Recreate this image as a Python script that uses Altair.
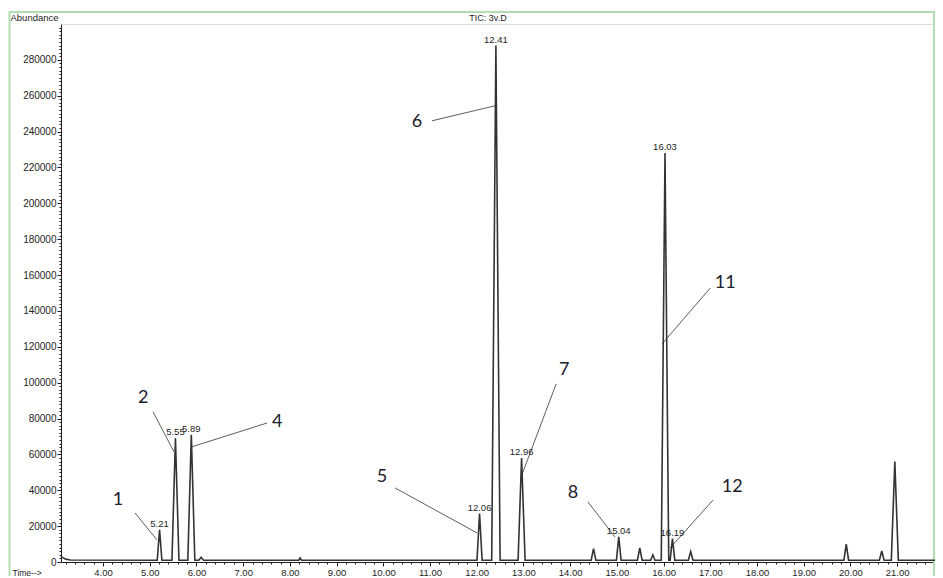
import altair as alt
import pandas as pd

# ---------------- data ----------------
peak_rt = [5.21, 5.55, 5.89, 6.10, 8.22, 12.06, 12.41, 12.96, 14.50, 15.04,
           15.49, 15.77, 16.03, 16.19, 16.58, 19.91, 20.67, 20.95]
peak_height = [18000, 69000, 71000, 2600, 2200, 27000, 288000, 58000, 7500, 14000,
               7800, 4000, 228000, 13000, 5800, 10000, 6200, 56000]
peak_halfwidth = [0.05, 0.075, 0.075, 0.05, 0.03, 0.055, 0.09, 0.075, 0.05, 0.05,
                  0.05, 0.045, 0.08, 0.05, 0.05, 0.05, 0.05, 0.075]

baseline_t = [3.10, 3.14, 3.20, 3.30, 21.81]
baseline_a = [3200, 2400, 1600, 1100, 1000]
base_level = 1000

rt_labels = ["5.21", "5.55", "5.89", "12.06", "12.41", "12.96", "15.04", "16.03", "16.19"]

num_labels = ["1", "2", "4", "5", "6", "7", "8", "11", "12"]
num_t = [4.32, 4.86, 7.73, 9.97, 10.72, 13.87, 14.06, 17.32, 17.47]
num_a = [34600, 91500, 78100, 47400, 245400, 107100, 38500, 155600, 41800]
lead_t1 = [4.685, 5.07, 7.51, 10.25, 11.04, 13.70, 14.38, 17.00, 17.06]
lead_a1 = [27300, 83700, 77500, 41300, 246000, 99300, 33500, 152800, 34600]
lead_t2 = [5.156, 5.52, 5.884, 12.007, 12.392, 12.949, 14.961, 15.967, 16.139]
lead_a2 = [12300, 61400, 64100, 16200, 254400, 47400, 13900, 121600, 7800]

chart_title = "TIC: 3v.D"
y_title = "Abundance"
x_title = "Time-->"

y_all = list(range(0, 298001, 2000))
x_all = [round(3.2 + 0.2 * i, 1) for i in range(94)]

# ---------------- build tables ----------------
rows = [{"t": t, "a": a} for t, a in zip(baseline_t, baseline_a)]
for rt, h, w in zip(peak_rt, peak_height, peak_halfwidth):
    rows.append({"t": rt - w, "a": base_level})
    rows.append({"t": rt, "a": h})
    rows.append({"t": rt + w, "a": base_level})
trace_df = pd.DataFrame(rows).sort_values("t")

lab_rows = []
for lab in rt_labels:
    i = peak_rt.index(float(lab))
    lab_rows.append({"t": peak_rt[i], "a": peak_height[i], "lab": lab})
lab_df = pd.DataFrame(lab_rows)

num_df = pd.DataFrame({"t": num_t, "a": num_a, "lab": num_labels})
lead_df = pd.DataFrame({"t1": lead_t1, "a1": lead_a1, "t2": lead_t2, "a2": lead_a2})

FONT = "Liberation Sans"
INK = "#1e1e1e"
W, H = 874, 538

is_int_x = "abs(datum.value - round(datum.value)) < 0.001"
xscale = alt.Scale(domain=[3.1, 21.81], nice=False, zero=False)
yscale = alt.Scale(domain=[0, 300000], nice=False)

xaxis = alt.Axis(
    values=x_all, tickCount=len(x_all),
    labelExpr=f"{is_int_x} ? format(datum.value, '.2f') : ''",
    tickSize={"condition": {"test": is_int_x, "value": 4}, "value": 2},
    labelFontSize=9.5, labelFont=FONT, labelColor=INK, tickColor=INK, domainColor=INK,
    grid=False, labelOverlap=False, labelFlush=False, labelPadding=1,
    title=x_title, titleX=-49, titleY=10, titleAlign="left", titleBaseline="middle",
    titleFontSize=8.5, titleFont=FONT, titleFontWeight="normal", titleColor=INK,
)
yaxis = alt.Axis(
    values=y_all, tickCount=len(y_all),
    labelExpr="datum.value % 20000 === 0 ? datum.value : ''",
    tickSize={"condition": {"test": "datum.value % 20000 === 0", "value": 4}, "value": 2},
    labelFontSize=10, labelFont=FONT, labelColor=INK, tickColor=INK, domainColor=INK,
    grid=False, labelOverlap=False, labelPadding=1,
    title=y_title, titleAngle=0, titleX=-51, titleY=-7, titleAlign="left",
    titleBaseline="middle", titleFontSize=9.5, titleFont=FONT, titleFontWeight="normal",
    titleColor=INK,
)

trace = alt.Chart(trace_df).mark_line(color="#333333", strokeWidth=1.6).encode(
    x=alt.X("t:Q", scale=xscale, axis=xaxis),
    y=alt.Y("a:Q", scale=yscale, axis=yaxis),
)

rt_text = alt.Chart(lab_df).mark_text(
    font=FONT, fontSize=9.5, color=INK, baseline="bottom", dy=-1
).encode(x=alt.X("t:Q", scale=xscale), y=alt.Y("a:Q", scale=yscale), text="lab:N")

leaders = alt.Chart(lead_df).mark_rule(color="#333333", strokeWidth=0.8).encode(
    x=alt.X("t1:Q", scale=xscale), y=alt.Y("a1:Q", scale=yscale),
    x2="t2:Q", y2="a2:Q",
)

numbers = alt.Chart(num_df).mark_text(
    font="Lato", fontSize=18, color="#20202c", baseline="middle", align="center"
).encode(x=alt.X("t:Q", scale=xscale), y=alt.Y("a:Q", scale=yscale), text="lab:N")

title_text = alt.Chart(pd.DataFrame({"lab": [chart_title]})).mark_text(
    font=FONT, fontSize=9, color=INK, baseline="middle", align="center"
).encode(x=alt.value(427), y=alt.value(-6), text="lab:N")

frame = alt.Chart(pd.DataFrame({"k": [0]})).mark_rect(
    fill=None, stroke="#b2ddb2", strokeWidth=2
).encode(
    x=alt.value(-51.5), x2=alt.value(873), y=alt.value(-12), y2=alt.value(553)
)

chart = alt.layer(frame, trace, leaders, rt_text, numbers, title_text).properties(
    width=W, height=H,
    autosize=alt.AutoSizeParams(type="none"),
    padding={"left": 53, "top": 16, "right": 0, "bottom": 14},
).configure_view(stroke=None).configure(background="white")

chart.save("out.html", embed_options={"renderer": "svg", "actions": False})
